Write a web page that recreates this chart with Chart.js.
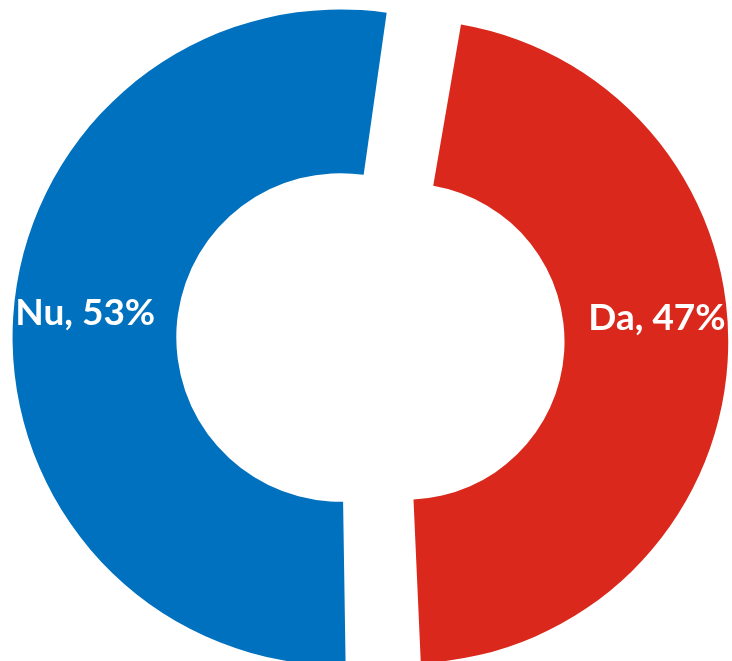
<!DOCTYPE html>
<html>
<head>
<meta charset="utf-8">
<script src="https://cdn.jsdelivr.net/npm/chart.js@4/dist/chart.umd.min.js"></script>
<style>
  html, body { margin: 0; padding: 0; background: #ffffff; }
  #wrap { width: 732px; height: 661px; position: relative; }
</style>
</head>
<body>
<div id="wrap"><canvas id="chart"></canvas></div>
<script>
// Answers and shares (percent)
const categories = ['Da', 'Nu'];
const shares     = [47, 53];
const colors     = ['#DA291C', '#0071BF'];

// Draws "Label, NN%" inside each slice, near the outer rim
const sliceLabels = {
  id: 'sliceLabels',
  afterDatasetsDraw(chart) {
    const ctx = chart.ctx;
    const meta = chart.getDatasetMeta(0);
    ctx.save();
    ctx.font = 'bold 37px Lato, "Open Sans", sans-serif';
    ctx.fillStyle = '#ffffff';
    ctx.textAlign = 'center';
    ctx.textBaseline = 'alphabetic';
    meta.data.forEach((arc, i) => {
      const mid = (arc.startAngle + arc.endAngle) / 2;
      // Chart.js v4 shifts an arc by offset / 4 and grows its radii too
      const off = (arc.options.offset || 0) / 4;
      const circ = arc.endAngle - arc.startAngle;
      const R = arc.outerRadius + off * (1 - Math.sin(Math.min(Math.PI, circ)));
      const cx = arc.x + Math.cos(mid) * off;
      const cy = arc.y + Math.sin(mid) * off;
      const x = cx + Math.cos(mid) * R * 0.78;
      const y = cy - R * 0.037;
      ctx.fillText(`${categories[i]}, ${shares[i]}%`, x, y);
    });
    ctx.restore();
  }
};

new Chart(document.getElementById('chart'), {
  type: 'doughnut',
  data: {
    labels: categories,
    datasets: [{
      data: shares,
      backgroundColor: colors,
      borderWidth: 0,
      offset: 132,
      clip: false,
    }],
  },
  options: {
    responsive: true,
    maintainAspectRatio: false,
    animation: false,
    rotation: 9,
    radius: 295,
    cutout: '44.5%',
    layout: { padding: { left: 15, right: 0, top: 18, bottom: 0 } },
    plugins: {
      legend: { display: false },
      tooltip: { enabled: false },
    },
  },
  plugins: [sliceLabels],
});
</script>
</body>
</html>
